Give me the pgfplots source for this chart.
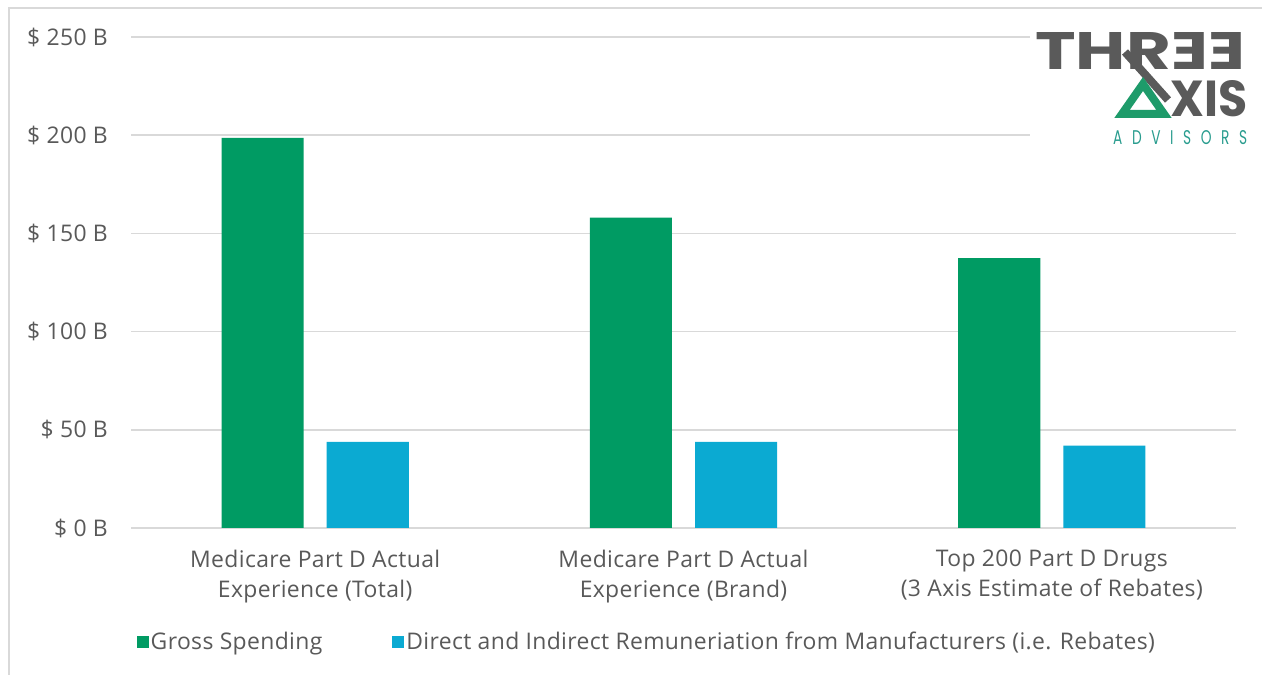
\documentclass[border=0pt]{standalone}
\usepackage{pgfplots}
\pgfplotsset{compat=1.18}
\usepackage{fontspec}
\setmainfont{Open Sans}[LetterSpace=1.6]
\newfontfamily\logofont{Poppins}
\definecolor{txt}{HTML}{595959}
\definecolor{gridc}{HTML}{D9D9D9}
\definecolor{gs}{HTML}{009B63}
\definecolor{rb}{HTML}{0BAAD2}
\definecolor{logogray}{HTML}{5A5A5A}
\definecolor{logogreen}{HTML}{1E9B6A}
\definecolor{logoteal}{HTML}{2A9D8F}
\begin{document}
\begin{tikzpicture}[x=1bp,y=1bp]
\useasboundingbox (0,0) rectangle (1262,675);
\fill[white] (0,0) rectangle (1262,675);
\draw[gridc, line width=2bp] (9,0) -- (9,667) -- (1262,667);
\begin{axis}[
  at={(131bp,147bp)}, anchor=south west,
  scale only axis, width=1105bp, height=491bp,
  xmin=-0.5, xmax=2.5, ymin=0, ymax=250,
  ytick={0,50,100,150,200,250},
  xtick={0,1,2},
  xticklabels={{Medicare Part D Actual\\Experience (Total)},{Medicare Part D Actual\\Experience (Brand)},{Top 200 Part D Drugs\\(3 Axis Estimate of Rebates)}},
  axis line style={draw=none},
  major tick length=0pt,
  ymajorgrids, grid style={gridc, line width=1.5bp},
  /pgf/number format/assume math mode=true,
  yticklabel={\$ \pgfmathprintnumber{\tick} B},
  yticklabel style={anchor=east, inner sep=0pt, xshift=-23bp},
  xticklabel style={align=center, anchor=north, inner sep=0pt, yshift=-22bp},
  tick label style={font=\fontsize{23}{30}\selectfont, text=txt},
  legend style={at={(0.005,-0.232)}, anchor=west, draw=none, inner sep=0pt,
    font=\fontsize{23}{30}\selectfont, text=txt, legend columns=2,
    /tikz/every even column/.append style={column sep=68bp}},
  legend cell align=left,
  legend image code/.code={\fill[#1] (0bp,-6bp) rectangle (12bp,6bp);},
]
\addplot[ybar, fill=gs, draw=none, bar width=0.2228, bar shift=-0.1427]
  coordinates {(0,198.6) (1,158.0) (2,137.4)};
\addlegendentry{Gross Spending}
\addplot[ybar, fill=rb, draw=none, bar width=0.2228, bar shift=0.1427]
  coordinates {(0,43.8) (1,43.8) (2,41.9)};
\addlegendentry{Direct and Indirect Remuneriation from Manufacturers (i.e. Rebates)}
\end{axis}
% logo
\fill[white] (1030,528) rectangle (1252,648);
\draw[logogray, line width=8bp] (1125,623) -- (1168,575);
\node[anchor=south west, inner sep=0pt, text=logogray] at (1035,605)
  {\resizebox{210bp}{37bp}{\logofont\bfseries THR\reflectbox{E}\reflectbox{E}}};
\draw[logogreen, line width=8bp, line join=miter]
  (1122,561) -- (1164,561) -- (1143,591) -- cycle;
\node[anchor=south west, inner sep=0pt, text=logogray] at (1170,558)
  {\resizebox{77bp}{36bp}{\logofont\bfseries XIS}};
\node[anchor=south west, inner sep=0pt, text=logoteal] at (1113,530)
  {\resizebox{134bp}{14bp}{\logofont A\hspace{0.7em}D\hspace{0.7em}V\hspace{0.7em}I\hspace{0.7em}S\hspace{0.7em}O\hspace{0.7em}R\hspace{0.7em}S}};
\end{tikzpicture}
\end{document}
